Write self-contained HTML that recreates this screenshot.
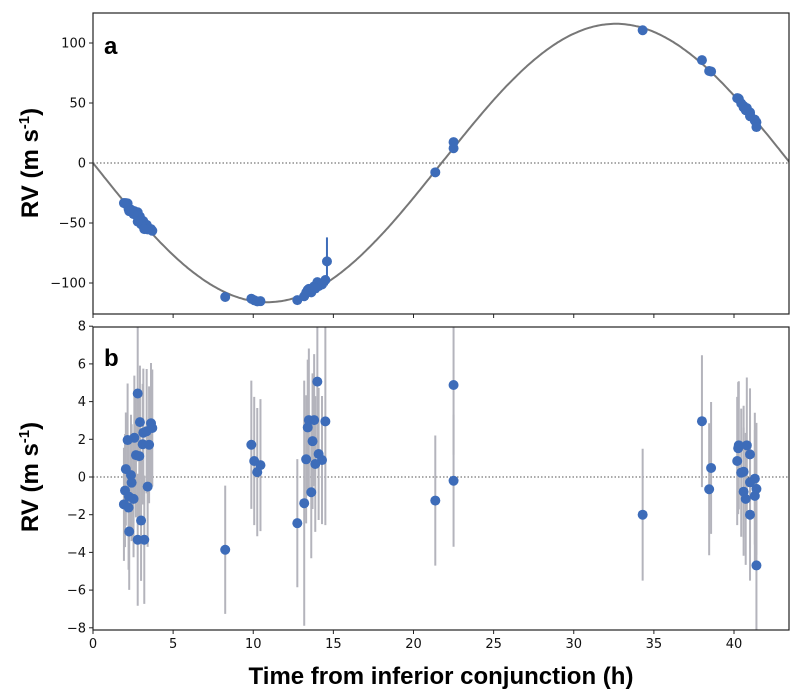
<!DOCTYPE html>
<html><head><meta charset="utf-8"><style>
body{margin:0;background:#fff;}
svg{display:block;font-family:"DejaVu Sans","Liberation Sans",sans-serif;}
</style></head><body>
<svg id="chart" width="800" height="699"></svg>
<script>
const K = 116;
const P = 43.5;
const times = [2.79,2.93,3.62,3.7,3.14,3.35,2.16,2.58,3.1,3.5,2.68,2.89,2.05,2.37,2.41,3.41,2.0,2.24,2.53,1.93,2.22,3.0,2.26,2.79,3.2,
 8.25,9.88,10.06,10.45,10.25,
 12.75,13.18,13.62,13.3,13.4,13.47,13.8,14.5,13.7,14.0,14.08,14.29,13.87,
 21.36,22.5,22.5,34.3,
 38.0,38.57,38.45,40.3,40.26,40.8,41.0,40.2,40.6,40.45,41.3,41.0,41.4,40.6,40.73,41.3,41.0,41.4];
const resid = [4.43,2.91,2.85,2.6,2.35,2.43,1.96,2.08,1.74,1.71,1.16,1.11,0.42,0.1,-0.3,-0.51,-0.72,-1.04,-1.16,-1.45,-1.62,-2.31,-2.89,-3.33,-3.33,
 -3.86,1.71,0.85,0.63,0.26,
 -2.45,-1.39,-0.81,0.94,2.63,3.02,3.02,2.95,1.9,5.06,1.22,0.9,0.69,
 -1.25,4.88,-0.2,-2.0,
 2.96,0.48,-0.65,1.68,1.53,1.68,1.2,0.85,0.28,0.23,-0.09,-0.28,-0.63,-0.78,-1.16,-1.0,-2.0,-4.69];
const errs = [3.6,3.0,3.2,3.1,3.4,3.3,3.0,3.3,3.2,3.1,3.3,3.4,3.0,3.2,3.1,3.2,3.0,3.2,3.1,3.0,3.3,3.2,3.1,3.5,3.4,
 3.4,3.4,3.4,3.5,3.4,
 3.4,6.5,3.5,3.4,3.6,3.8,3.5,5.5,3.6,4.0,3.5,3.4,3.6,
 3.45,3.7,3.5,3.5,
 3.5,3.5,3.5,3.4,3.5,3.6,3.5,3.4,3.5,3.4,3.5,3.5,3.5,3.4,3.5,3.5,3.5,3.5];
const extraT = [14.6];
const extraRV = [-82];
const extraErr = [20];
const xTicks = [0,5,10,15,20,25,30,35,40];
const topTicks = [100,50,0,-50,-100];
const botTicks = [8,6,4,2,0,-2,-4,-6,-8];

const NS = "http://www.w3.org/2000/svg";
const svg = document.getElementById('chart');
const L = 93, R = 789;
const xS = t => L + t * (734 - L) / 40;
const yTop = v => 163 - v * 1.2;
const yBot = v => 477 - v * 18.85;
function el(tag, attrs, parent){const e=document.createElementNS(NS,tag);for(const k in attrs)e.setAttribute(k,attrs[k]);(parent||svg).appendChild(e);return e;}
const model = t => -K * Math.sin(2*Math.PI*t/P);

// clip paths
const defs = el('defs',{});
const c1 = el('clipPath',{id:'c1'},defs); el('rect',{x:L,y:13,width:R-L,height:301},c1);
const c2 = el('clipPath',{id:'c2'},defs); el('rect',{x:L,y:327,width:R-L,height:303},c2);

function frame(y0,y1,name){
  const r = el('rect',{x:L,y:y0,width:R-L,height:y1-y0,fill:'none',stroke:'#222','stroke-width':1.2});
  
  
}

// TOP PANEL
const gTop = el('g',{'clip-path':'url(#c1)'});


const z1 = el('line',{x1:L,x2:R,y1:yTop(0),y2:yTop(0),stroke:'#555','stroke-width':1,'stroke-dasharray':'1.5,2'},gTop);


let d='';
for(let t=0;t<=43.6;t+=0.1){d+=(d?'L':'M')+xS(t).toFixed(1)+','+yTop(model(t)).toFixed(1);}
const curve = el('path',{d:d,fill:'none',stroke:'#777','stroke-width':2},gTop);


for(let i=0;i<extraT.length;i++){
  const x=xS(extraT[i]);
  const eb=el('line',{x1:x,x2:x,y1:yTop(extraRV[i]+extraErr[i]),y2:yTop(extraRV[i]-extraErr[i]),stroke:'#3d6cb9','stroke-width':2},gTop);
  
  
  const p=el('circle',{cx:x,cy:yTop(extraRV[i]),r:5,fill:'#3d6cb9'},gTop);
  
  
}
for(let i=0;i<times.length;i++){
  const p=el('circle',{cx:xS(times[i]),cy:yTop(model(times[i])+resid[i]),r:5,fill:'#3d6cb9'},gTop);
  
  
}
frame(13,314,'top-panel-frame');

// BOTTOM PANEL
const gBot = el('g',{'clip-path':'url(#c2)'});


const z2 = el('line',{x1:L,x2:R,y1:yBot(0),y2:yBot(0),stroke:'#555','stroke-width':1,'stroke-dasharray':'1.5,2'},gBot);


for(let i=0;i<times.length;i++){
  const x=xS(times[i]);
  const eb=el('line',{x1:x,x2:x,y1:yBot(resid[i]+errs[i]),y2:yBot(resid[i]-errs[i]),stroke:'#b4b4bc','stroke-width':2},gBot);
  
  
}
for(let i=0;i<times.length;i++){
  const p=el('circle',{cx:xS(times[i]),cy:yBot(resid[i]),r:5,fill:'#3d6cb9'},gBot);
  
  
}
frame(327,630,'bottom-panel-frame');

// ticks
xTicks.forEach(v=>{
  const x=xS(v);
  [[314],[630]].forEach(([y])=>{
    const tk=el('line',{x1:x,x2:x,y1:y,y2:y+4,stroke:'#222','stroke-width':1});
    
    
  });
  const tx=el('text',{x:x,y:648,'font-size':13,'text-anchor':'middle',fill:'#111'});
  tx.textContent=v;
  
  
});
topTicks.forEach(v=>{
  const y=yTop(v);
  const tk=el('line',{x1:L-4,x2:L,y1:y,y2:y,stroke:'#222','stroke-width':1});
  
  
  const tx=el('text',{x:L-7,y:y+4.5,'font-size':13,'text-anchor':'end',fill:'#111'});
  tx.textContent=v<0?'\u2212'+(-v):v;
  
  
});
botTicks.forEach(v=>{
  const y=yBot(v);
  const tk=el('line',{x1:L-4,x2:L,y1:y,y2:y,stroke:'#222','stroke-width':1});
  
  
  const tx=el('text',{x:L-7,y:y+4.5,'font-size':13,'text-anchor':'end',fill:'#111'});
  tx.textContent=v<0?'\u2212'+(-v):v;
  
  
});

// labels
function label(txt,x,y,name,extra){
  const t=el('text',Object.assign({x:x,y:y,'font-size':24,'font-weight':'bold','font-family':'Liberation Sans, sans-serif',fill:'#000'},extra||{}));
  t.innerHTML=txt;
  
  
  return t;
}
label('a',104,54,'panel-label-a');
label('b',104,366,'panel-label-b');
label('RV (m s<tspan font-size="15" dy="-9">-1</tspan><tspan dy="9">)</tspan>',0,0,'y-axis-title-top',{'text-anchor':'middle',transform:'translate(38,163) rotate(-90)'});
label('RV (m s<tspan font-size="15" dy="-9">-1</tspan><tspan dy="9">)</tspan>',0,0,'y-axis-title-bottom',{'text-anchor':'middle',transform:'translate(38,477) rotate(-90)'});
label('Time from inferior conjunction (h)',441,684,'x-axis-title',{'text-anchor':'middle'});
</script>
</body></html>
